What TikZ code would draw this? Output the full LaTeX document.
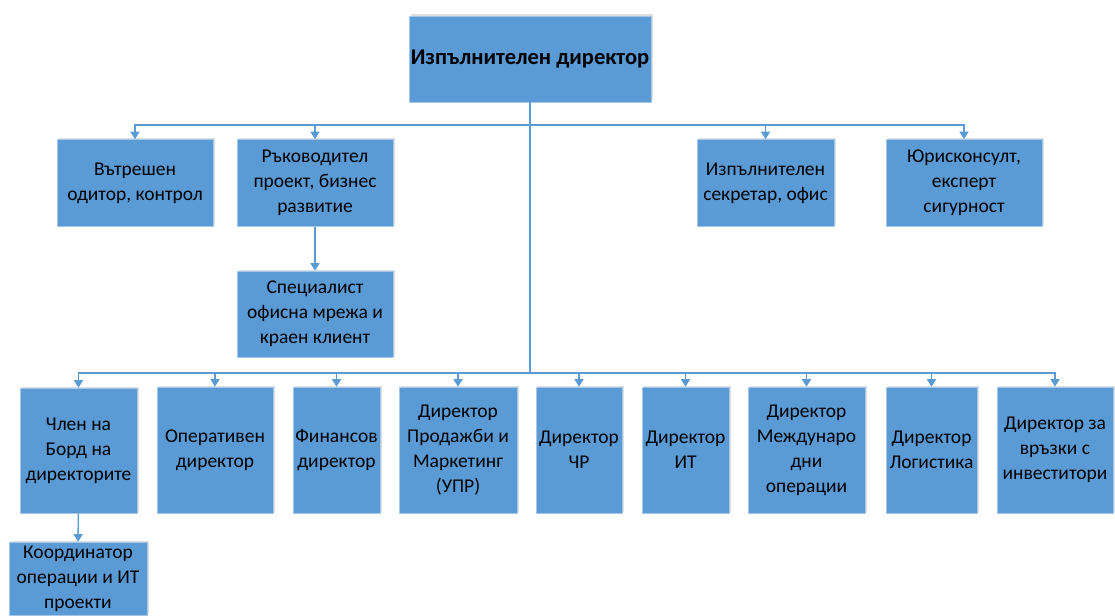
\documentclass[tikz,border=0pt]{standalone}
\usepackage{fontspec}
\setmainfont{Carlito}
\usetikzlibrary{arrows.meta,shadows}
\definecolor{boxblue}{HTML}{5B9BD5}
\tikzset{
  unit/.style={draw=boxblue!55!white, line width=0.6pt, fill=boxblue,
    minimum width=#1, inner xsep=0pt, inner ysep=0pt, align=center,
    font=\fontsize{19.5}{25}\selectfont,
    drop shadow={shadow xshift=1.5pt, shadow yshift=1.5pt, opacity=0.25}},
  link/.style={draw=boxblue, line width=1.4pt},
  arr/.style={link, -{Triangle[width=9pt,length=7.5pt]}}
}
\begin{document}
\begin{tikzpicture}[x=1pt,y=-1pt]
\useasboundingbox (0,0) rectangle (1115,615);
% top
\node[unit=242, minimum height=86, font=\fontsize{22.5}{27}\selectfont\bfseries] (ceo) at (530,59) {Изпълнителен директор};
% staff row
\node[unit=156, minimum height=87] (audit) at (135,183) {Вътрешен\\одитор, контрол};
\node[unit=156, minimum height=87] (pm) at (315,183) {Ръководител\\проект, бизнес\\развитие};
\node[unit=156, minimum height=86] (spec) at (315,314) {Специалист\\офисна мрежа и\\краен клиент};
\node[unit=137, minimum height=87] (sec) at (765.5,183) {Изпълнителен\\секретар, офис};
\node[unit=156, minimum height=87] (legal) at (964,183) {Юрисконсулт,\\експерт\\сигурност};
% directors row
\node[unit=117, minimum height=125] (board) at (78.5,450.5) {Член на\\Борд на\\директорите};
\node[unit=116, minimum height=126] (ops) at (215,450) {Оперативен\\директор};
\node[unit=87, minimum height=126] (fin) at (336.5,450) {Финансов\\директор};
\node[unit=118, minimum height=126] (sales) at (458,450) {Директор\\Продажби и\\Маркетинг\\(УПР)};
\node[unit=86, minimum height=126] (hr) at (579,450) {Директор\\ЧР};
\node[unit=87, minimum height=126] (it) at (685.5,450) {Директор\\ИТ};
\node[unit=117, minimum height=126] (intl) at (806.5,450) {Директор\\Междунаро\\дни\\операции};
\node[unit=91, minimum height=126] (log) at (931.5,450) {Директор\\Логистика};
\node[unit=116, minimum height=126] (inv) at (1055,450) {Директор за\\връзки с\\инвеститори};
\node[unit=138, minimum height=73] (coord) at (78,578.5) {Координатор\\операции и ИТ\\проекти};
% buses
\coordinate (bus1) at (530,125);
\coordinate (bus2) at (530,373);
\draw[link] (ceo.south) -- (bus2);
\foreach \n in {audit,pm,sec,legal}
  \draw[arr] (bus1) -| (\n.north);
\foreach \n in {board,ops,fin,sales,hr,it,intl,log,inv}
  \draw[arr] (bus2) -| (\n.north);
\draw[arr] (pm) -- (spec);
\draw[arr] (board) -- (coord);
\end{tikzpicture}
\end{document}
